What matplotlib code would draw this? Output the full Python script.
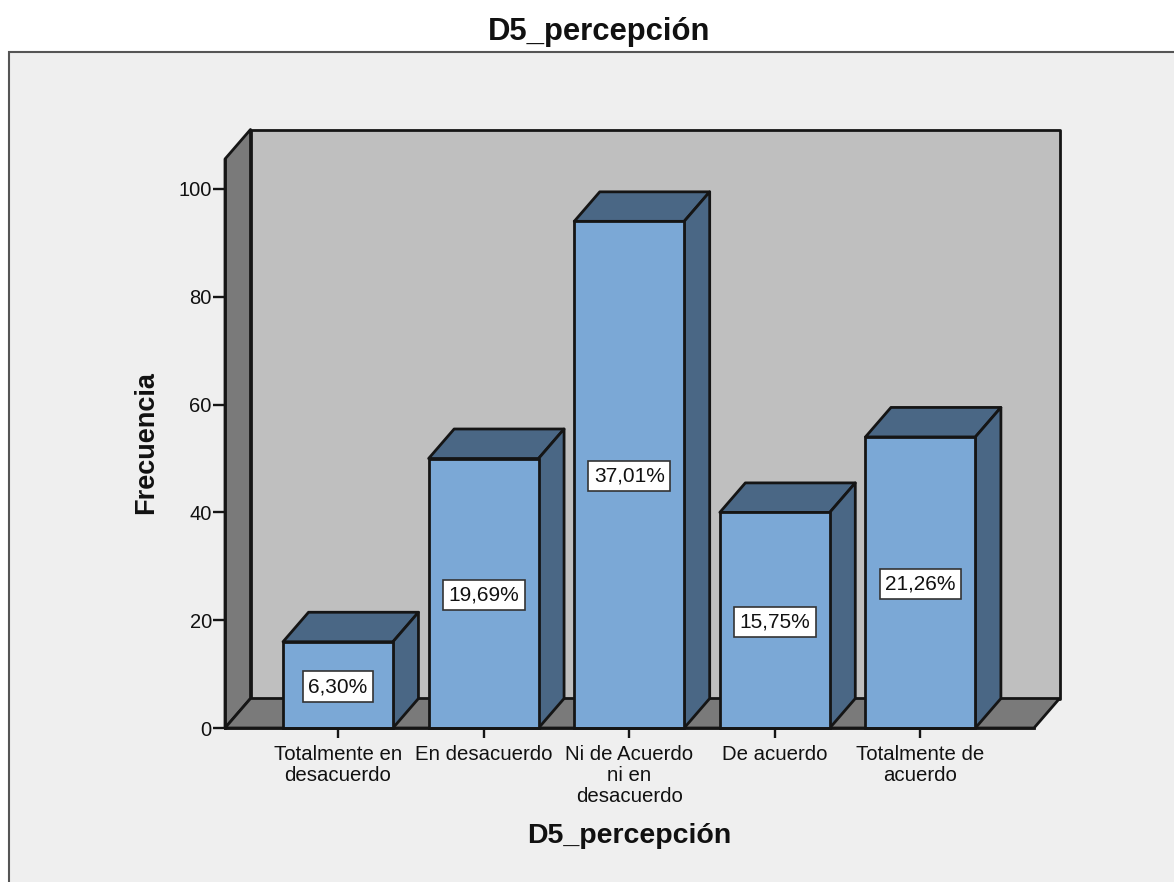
import numpy as np
import matplotlib
matplotlib.use('Agg')
import matplotlib.pyplot as plt
from matplotlib.patches import Polygon, Rectangle

plt.rcParams['font.family'] = ['Liberation Sans', 'DejaVu Sans']

categories = ['Totalmente en\ndesacuerdo', 'En desacuerdo', 'Ni de Acuerdo\nni en\ndesacuerdo',
              'De acuerdo', 'Totalmente de\nacuerdo']
counts = [16, 50, 94, 40, 54]
pct_labels = ['6,30%', '19,69%', '37,01%', '15,75%', '21,26%']
y_ticks = [0, 20, 40, 60, 80, 100]
title = 'D5_percepción'

W, H = 1174, 882
bar_blue = '#7ba8d6'
bar_dark = '#4a6785'
wall = '#bfbfbf'
side = '#7a7a7a'
panel = '#efefef'
edge = '#151515'

fig = plt.figure(figsize=(W / 100, H / 100), dpi=100, facecolor='white')

# grey panel behind the chart, runs off the right and bottom of the image
fig.add_artist(Rectangle((9 / W, -0.01), 1.1, 1.01 - 52 / H, transform=fig.transFigure,
                         facecolor=panel, edgecolor='#555555', lw=1.5, zorder=-1))

ax = fig.add_axes([225 / W, 1 - 728 / H, (1034 - 225) / W, (728 - 159) / H])
ax.set_facecolor('none')
xmin, xmax = -0.776, 4.78
ymax = (728 - 159) / 5.39
ax.set_xlim(xmin, xmax)
ax.set_ylim(0, ymax)

# depth of the fake 3d, in data units
dx = 25.5 / 145.6
dy = 29.5 / 5.39


def poly(points, color, z):
    ax.add_patch(Polygon(points, closed=True, facecolor=color, edgecolor=edge, lw=2.0,
                         joinstyle='round', clip_on=False, zorder=z))


# back wall, left wall, floor
poly([(xmin + dx, dy), (xmax + dx, dy), (xmax + dx, ymax + dy), (xmin + dx, ymax + dy)], wall, 1)
poly([(xmin, 0), (xmin + dx, dy), (xmin + dx, ymax + dy), (xmin, ymax)], side, 1.1)
poly([(xmin, 0), (xmax, 0), (xmax + dx, dy), (xmin + dx, dy)], side, 1.2)

x = np.arange(len(categories))
bw = 0.755
for xi, v, lab in zip(x, counts, pct_labels):
    l, r = xi - bw / 2, xi + bw / 2
    poly([(l, v), (r, v), (r + dx, v + dy), (l + dx, v + dy)], bar_dark, 3)
    poly([(r, 0), (r + dx, dy), (r + dx, v + dy), (r, v)], bar_dark, 3)
    ax.bar(xi, v, bw, color=bar_blue, edgecolor=edge, lw=2.0, zorder=4, clip_on=False)
    ax.annotate(lab, (xi, v / 2), xytext=(0, -1.2), textcoords='offset points', ha='center', va='center',
                fontsize=15, color='#111111', zorder=5,
                bbox=dict(facecolor='white', edgecolor='#333333', lw=1.2, boxstyle='square,pad=0.27'))

for s in ['top', 'right']:
    ax.spines[s].set_visible(False)
for s in ['left', 'bottom']:
    ax.spines[s].set_linewidth(2.0)
    ax.spines[s].set_color(edge)
    ax.spines[s].set_zorder(6)

ax.set_yticks(y_ticks)
ax.set_xticks(x)
ax.set_xticklabels(categories, linespacing=1.14)
ax.tick_params(axis='y', length=8.5, width=1.7, labelsize=14.5, pad=1, color=edge, labelcolor='#111111')
ax.tick_params(axis='x', length=7, width=1.7, labelsize=14.7, pad=5, color=edge, labelcolor='#111111')

fig.text(599 / W, 1 - 32 / H, title, ha='center', va='center', fontsize=22.3, fontweight='bold', color='#111111')
fig.text(629 / W, 1 - 836 / H, title, ha='center', va='center', fontsize=20.5, fontweight='bold', color='#111111')
fig.text(146 / W, 1 - 443 / H, 'Frecuencia', ha='center', va='center', rotation=90, fontsize=19.5,
         fontweight='bold', color='#111111')

fig.savefig('out.png', dpi=100)
